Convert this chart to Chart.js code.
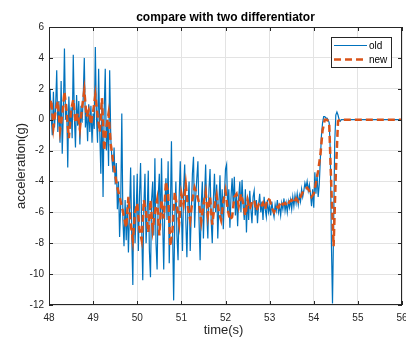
<!DOCTYPE html>
<html lang="en">
<head>
    <meta charset="UTF-8">
    <title>compare with two differentiator</title>
    <script src="https://cdn.jsdelivr.net/npm/chart.js"></script>
    <style>
        body { margin: 0; padding: 0; background: #ffffff; }
        #wrap { width: 406px; height: 338px; position: relative; }
    </style>
</head>
<body>
    <div id="wrap"><canvas id="accChart" width="406" height="338"></canvas></div>

    <script>
        // ---- data ----
        const titleText = 'compare with two differentiator';
        const xLabel = 'time(s)';
        const yLabel = 'acceleration(g)';
        const xTicks = [48, 49, 50, 51, 52, 53, 54, 55, 56];
        const yTicks = [-12, -10, -8, -6, -4, -2, 0, 2, 4, 6];

        // "old" differentiator, sampled every 0.025 s from 48.0 s
        const oldStart = 48.0;
        const oldStep = 0.025;
        const oldAccel = [
            0.5, 2.0, 0.2, -1.0, 1.8, -0.5, 0.8, 3.2, -0.8, 1.2,
            -1.5, 2.5, -2.2, 0.5, 4.6, 0.0, 1.0, -3.1, 1.5, -0.6,
            0.8, -1.2, 4.2, 0.2, -1.8, 1.6, -0.4, 1.2, -1.6, 0.9,
            -0.2, 1.4, 4.0, -0.5, 0.6, -1.4, 1.0, -0.8, 0.9, -1.5,
            0.4, -0.6, 4.7, 0.2, -1.5, 3.3, -0.8, -3.5, 1.0, -5.0,
            0.5, 3.3, -2.0, 0.0, -3.0, 3.2, -1.2, -2.5, -3.4, -1.8,
            -4.2, -2.8, -5.8, -4.0, -7.6, -5.5, 0.4, -6.5, -8.2, -5.2,
            -7.8, -5.5, -8.6, -6.0, -3.1, -7.5, -10.7, -3.6, -8.0, -6.0,
            -3.5, -8.5, -5.0, -2.8, -7.0, -10.4, -5.5, -3.5, -8.0, -6.0,
            -3.3, -8.5, -10.2, -5.2, -4.0, -7.5, -2.5, -8.0, -9.7, -5.0,
            -3.5, -7.0, -2.5, -6.5, -9.7, -5.5, -3.8, -6.5, -2.7, -9.3,
            -6.0, -1.4, -7.0, -11.7, -6.5, -4.0, -7.5, -9.1, -5.0, -2.7,
            -6.0, -8.5, -4.5, -2.9, -6.5, -8.9, -5.5, -4.0, -8.5, -6.0,
            -3.5, -2.4, -7.0, -5.0, -3.8, -2.7, -6.5, -9.1, -5.5, -4.0,
            -7.7, -5.0, -2.9, -6.0, -7.7, -4.5, -3.2, -6.5, -8.0, -5.2,
            -3.5, -6.0, -4.2, -7.7, -5.5, -3.6, -6.5, -4.5, -7.1, -5.0,
            -3.2, -2.9, -6.0, -4.5, -7.0, -5.0, -3.8, -5.5, -3.7, -6.2,
            -4.8, -6.9, -5.0, -4.0, -6.0, -3.9, -5.5, -6.5, -4.5, -7.3,
            -5.0, -6.5, -4.6, -5.8, -6.7, -5.0, -4.6, -6.2, -5.2, -6.7,
            -5.5, -4.8, -6.0, -5.3, -6.5, -5.0, -5.8, -6.3, -5.2, -6.0,
            -5.6, -6.2, -5.3, -5.9, -6.3, -5.5, -5.9, -5.2, -6.0, -5.6,
            -6.2, -5.4, -5.8, -5.1, -5.9, -5.4, -6.0, -5.3, -5.7, -5.2,
            -5.8, -5.0, -5.6, -4.9, -5.4, -4.8, -5.5, -4.9, -5.3, -4.5,
            -5.0, -4.6, -4.1, -4.4, -4.0, -4.6, -4.2, -4.8, -5.6, -4.5,
            -5.7, -3.4, -4.8, -3.5, -5.0, -4.2, -2.5, -1.0, -0.2, 0.2,
            0.2, 0.1, 0.1, 0.0, -0.2, -2.0, -8.0, -11.9, -7.0, -1.5,
            0.3, 0.5, 0.3, 0.0, -0.1, 0.0, 0.0, 0.0, 0.0
        ];

        // "new" differentiator, sampled every 0.05 s from 48.0 s
        const newStart = 48.0;
        const newStep = 0.05;
        const newAccel = [
            0.8, 1.3, -0.5, 0.6, 1.2, -0.7, 0.3, 1.8, 0.5, -1.2,
            0.6, 1.3, -0.2, 0.4, -0.6, 0.8, 1.9, 0.2, 0.6, -0.3,
            0.5, 1.6, 0.3, -0.8, 1.4, -2.0, -0.5, 0.4, -1.6, -2.6,
            -3.6, -4.4, -5.0, -5.6, -6.3, -7.0, -5.0, -6.7, -7.8, -6.0,
            -5.4, -7.1, -7.8, -5.2, -6.0, -7.3, -5.2, -7.1, -6.0, -5.2,
            -7.5, -5.2, -6.4, -4.0, -4.8, -8.2, -7.1, -4.7, -5.6, -6.7,
            -4.8, -5.5, -4.2, -5.7, -6.5, -5.2, -4.4, -4.8, -5.4, -6.6,
            -5.5, -4.7, -6.2, -5.0, -6.8, -5.6, -4.9, -6.0, -6.5, -5.3,
            -4.6, -5.8, -6.5, -6.3, -5.0, -4.8, -5.6, -4.8, -5.4, -6.2,
            -5.2, -5.8, -5.3, -5.2, -5.9, -5.5, -5.7, -5.4, -5.8, -5.1,
            -5.2, -5.7, -6.0, -5.6, -5.7, -5.3, -5.5, -5.4, -5.6, -5.3,
            -5.2, -5.4, -5.1, -5.3, -5.0, -4.7, -4.5, -4.4, -4.6, -5.0,
            -4.8, -4.1, -3.3, -2.3, -0.7, 0.0, 0.0, -0.2, -4.5, -8.2,
            -3.5, -0.1, 0.0, 0.0
        ];

        // both signals stay at rest until the end of the record
        const endTime = 56;
        const endValue = 0;

        const toPoints = (start, step, values) =>
            values.map((v, i) => ({ x: +(start + i * step).toFixed(3), y: v }))
                  .concat([{ x: endTime, y: endValue }]);

        const oldColor = '#0072BD';
        const newColor = '#D95319';
        const axisColor = '#262626';
        const fontFam = '"Liberation Sans", Arial, sans-serif';

        // box, inward ticks, title, axis labels and legend, MATLAB style
        const matlabFrame = {
            id: 'matlabFrame',
            afterDraw(chart) {
                const { ctx, chartArea: a, scales: { x, y } } = chart;
                ctx.save();
                ctx.strokeStyle = axisColor;
                ctx.lineWidth = 1;
                ctx.strokeRect(Math.round(a.left) + 0.5, Math.round(a.top) + 0.5,
                    Math.round(a.right - a.left) - 1, Math.round(a.bottom - a.top) - 1);

                ctx.beginPath();
                xTicks.forEach(t => {
                    const px = Math.round(x.getPixelForValue(t)) + 0.5;
                    ctx.moveTo(px, a.bottom); ctx.lineTo(px, a.bottom - 4);
                    ctx.moveTo(px, a.top); ctx.lineTo(px, a.top + 4);
                });
                yTicks.forEach(t => {
                    const py = Math.round(y.getPixelForValue(t)) + 0.5;
                    ctx.moveTo(a.left, py); ctx.lineTo(a.left + 4, py);
                    ctx.moveTo(a.right, py); ctx.lineTo(a.right - 4, py);
                });
                ctx.stroke();

                // title
                ctx.fillStyle = '#000000';
                ctx.font = 'bold 12px ' + fontFam;
                ctx.textAlign = 'center';
                ctx.textBaseline = 'alphabetic';
                ctx.fillText(titleText, (a.left + a.right) / 2, 21);

                // axis labels
                ctx.fillStyle = axisColor;
                ctx.font = '13px ' + fontFam;
                ctx.fillText(xLabel, (a.left + a.right) / 2 - 2, 334);
                ctx.save();
                ctx.translate(25, (a.top + a.bottom) / 2);
                ctx.rotate(-Math.PI / 2);
                ctx.fillText(yLabel, 0, 0);
                ctx.restore();

                // legend box
                const lx = 331, ly = 37, lw = 60, lh = 30;
                ctx.fillStyle = '#ffffff';
                ctx.fillRect(lx, ly, lw, lh);
                ctx.strokeStyle = axisColor;
                ctx.strokeRect(lx + 0.5, ly + 0.5, lw, lh);
                ctx.font = '10px ' + fontFam;
                ctx.textAlign = 'left';
                ctx.textBaseline = 'middle';

                ctx.strokeStyle = oldColor;
                ctx.lineWidth = 1.2;
                ctx.beginPath(); ctx.moveTo(334, 45.5); ctx.lineTo(367, 45.5); ctx.stroke();
                ctx.fillStyle = '#000000';
                ctx.fillText('old', 369, 46);

                ctx.strokeStyle = newColor;
                ctx.lineWidth = 2.5;
                ctx.setLineDash([7, 4]);
                ctx.beginPath(); ctx.moveTo(334, 59.5); ctx.lineTo(367, 59.5); ctx.stroke();
                ctx.setLineDash([]);
                ctx.fillText('new', 369, 60);
                ctx.restore();
            }
        };

        new Chart(document.getElementById('accChart'), {
            type: 'line',
            data: {
                datasets: [
                    {
                        label: 'old',
                        data: toPoints(oldStart, oldStep, oldAccel),
                        borderColor: oldColor,
                        borderWidth: 1.2,
                        pointRadius: 0,
                        tension: 0,
                        order: 2
                    },
                    {
                        label: 'new',
                        data: toPoints(newStart, newStep, newAccel),
                        borderColor: newColor,
                        borderWidth: 2.5,
                        borderDash: [7, 4],
                        pointRadius: 0,
                        tension: 0,
                        order: 1
                    }
                ]
            },
            options: {
                responsive: false,
                animation: false,
                parsing: false,
                layout: { padding: { top: 27, right: 4, left: 0, bottom: 0 } },
                plugins: {
                    legend: { display: false },
                    tooltip: { enabled: false }
                },
                scales: {
                    x: {
                        type: 'linear',
                        min: 48, max: 56,
                        afterFit: s => {
                            s.height = 33;
                            s.paddingLeft = 0;
                            s.paddingRight = 0;
                        },
                        afterBuildTicks: s => { s.ticks = xTicks.map(v => ({ value: v })); },
                        grid: { color: '#e3e3e3', drawTicks: false },
                        border: { display: false },
                        ticks: {
                            padding: 7,
                            color: axisColor,
                            font: { size: 10, family: fontFam }
                        }
                    },
                    y: {
                        min: -12, max: 6,
                        afterFit: s => {
                            s.width = 49;
                            s.paddingTop = 0;
                            s.paddingBottom = 0;
                        },
                        afterBuildTicks: s => { s.ticks = yTicks.map(v => ({ value: v })); },
                        grid: { color: '#e3e3e3', drawTicks: false },
                        border: { display: false },
                        ticks: {
                            padding: 5,
                            color: axisColor,
                            font: { size: 10, family: fontFam }
                        }
                    }
                }
            },
            plugins: [matlabFrame]
        });
    </script>
</body>
</html>
